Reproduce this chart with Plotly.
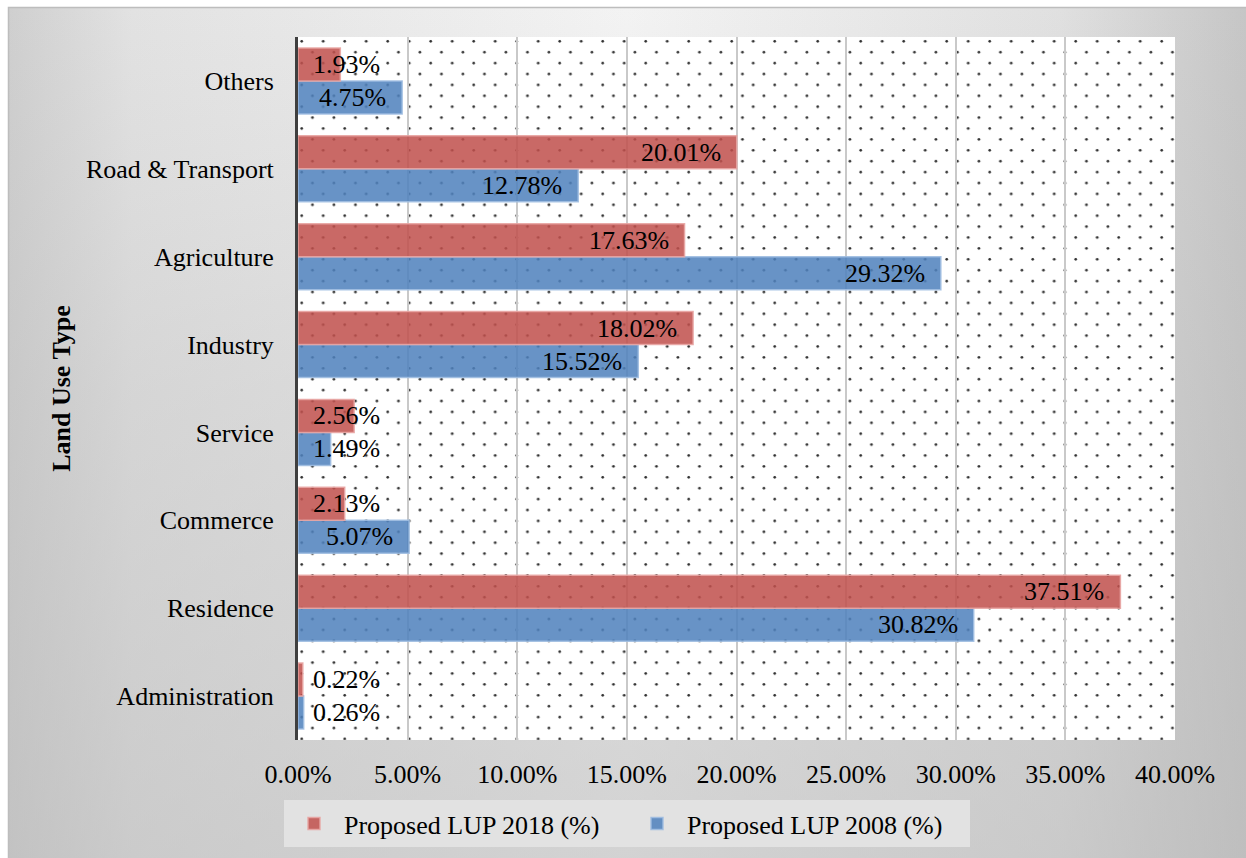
import base64
import plotly.graph_objects as go

# Land use categories, listed bottom to top
categories = ["Administration", "Residence", "Commerce", "Service",
              "Industry", "Agriculture", "Road & Transport", "Others"]

# Share of land (%) per plan
lup_2018 = [0.22, 37.51, 2.13, 2.56, 18.02, 17.63, 20.01, 1.93]
lup_2008 = [0.26, 30.82, 5.07, 1.49, 15.52, 29.32, 12.78, 4.75]

x_ticks = [0, 5, 10, 15, 20, 25, 30, 35, 40]
x_tick_labels = [f"{v:.2f}%" for v in x_ticks]

W, H = 1246, 858
ML, MR, MT, MB = 298, 71, 37, 118
PW, PH = W - ML - MR, H - MT - MB

FONT = "'Liberation Serif', 'Times New Roman', Tinos, serif"
FS = 26
BARGAP = 0.25


def data_uri(svg):
    return "data:image/svg+xml;base64," + base64.b64encode(svg.encode()).decode()


# Soft grey frame behind the whole chart
frame_svg = f"""<svg xmlns="http://www.w3.org/2000/svg" width="{W}" height="{H}" viewBox="0 0 {W} {H}">
<defs>
<linearGradient id="h" x1="0" y1="0" x2="1" y2="0">
<stop offset="0" stop-color="#cfcfcf"/>
<stop offset="0.1" stop-color="#e2e2e2"/>
<stop offset="0.5" stop-color="#f3f3f3"/>
<stop offset="0.85" stop-color="#e0e0e0"/>
<stop offset="1" stop-color="#c6c6c6"/>
</linearGradient>
<linearGradient id="v" x1="0" y1="0" x2="0" y2="1">
<stop offset="0" stop-color="#b8b8b8" stop-opacity="0"/>
<stop offset="0.45" stop-color="#b8b8b8" stop-opacity="0.3"/>
<stop offset="1" stop-color="#b8b8b8" stop-opacity="0.55"/>
</linearGradient>
</defs>
<rect x="0" y="0" width="{W}" height="{H}" fill="#ffffff"/>
<rect x="8" y="7" width="{W-8}" height="{H-7}" fill="url(#h)"/>
<rect x="8" y="7" width="{W-8}" height="{H-7}" fill="url(#v)"/>
<path d="M8.5 {H} V7.5 H{W}" fill="none" stroke="#bdbdbd" stroke-width="1.5"/>
</svg>"""

# Dotted fill of the plotting area
dots_svg = f"""<svg xmlns="http://www.w3.org/2000/svg" width="{PW}" height="{PH}" viewBox="0 0 {PW} {PH}">
<defs>
<pattern id="p" x="0" y="0" width="21.5" height="21.8" patternUnits="userSpaceOnUse">
<circle cx="3.7" cy="4.3" r="1.35" fill="#2e2e2e"/>
<circle cx="14.45" cy="15.2" r="1.35" fill="#2e2e2e"/>
</pattern>
</defs>
<rect width="{PW}" height="{PH}" fill="#ffffff"/>
<rect width="{PW}" height="{PH}" fill="url(#p)"/>
</svg>"""

fig = go.Figure()

fig.add_trace(go.Bar(
    y=categories, x=lup_2008, orientation="h",
    name="Proposed LUP 2008 (%)", legendrank=2,
    marker=dict(color="rgba(79,129,189,0.86)",
                line=dict(color="rgba(160,190,225,0.9)", width=1.5)),
    hoverinfo="skip",
))
fig.add_trace(go.Bar(
    y=categories, x=lup_2018, orientation="h",
    name="Proposed LUP 2018 (%)", legendrank=1,
    marker=dict(color="rgba(192,80,77,0.86)",
                line=dict(color="rgba(232,165,163,0.9)", width=1.5)),
    hoverinfo="skip",
))

# Value labels: inside the bar end, or from the axis when the bar is short
half = (1 - BARGAP) / 4
annotations = []
for values, offset in ((lup_2008, -half), (lup_2018, half)):
    for i, v in enumerate(values):
        long_bar = v >= 4.6
        annotations.append(dict(
            x=v if long_bar else 0, y=i + offset, xref="x", yref="y",
            text=f"{v:.2f}%", showarrow=False,
            xanchor="right" if long_bar else "left",
            xshift=-14 if long_bar else 13,
            yanchor="middle",
            font=dict(family=FONT, size=FS, color="#000000"),
        ))

fig.update_layout(
    width=W, height=H,
    margin=dict(l=ML, r=MR, t=MT, b=MB, autoexpand=False),
    paper_bgcolor="#ffffff",
    plot_bgcolor="rgba(0,0,0,0)",
    barmode="group", bargap=BARGAP, bargroupgap=0,
    font=dict(family=FONT, size=FS, color="#000000"),
    showlegend=True,
    legend=dict(
        orientation="h", x=(627 - ML) / PW, xanchor="center",
        y=-(800 - (H - MB)) / PH, yanchor="top",
        bgcolor="#e2e2e2", borderwidth=0,
        font=dict(family=FONT, size=FS, color="#000000"),
        itemwidth=50,
        entrywidth=278, entrywidthmode="pixels",
    ),
    annotations=annotations,
    images=[
        dict(source=data_uri(frame_svg), xref="paper", yref="paper",
             x=-ML / PW, y=(PH + MT) / PH, sizex=W / PW, sizey=H / PH,
             xanchor="left", yanchor="top", sizing="stretch", layer="below"),
        dict(source=data_uri(dots_svg), xref="paper", yref="paper",
             x=0, y=1, sizex=1, sizey=1,
             xanchor="left", yanchor="top", sizing="stretch", layer="below"),
    ],
)

fig.update_xaxes(
    range=[0, 40], tickvals=x_ticks, ticktext=x_tick_labels,
    showgrid=True, gridcolor="#c9c9c9", gridwidth=1.5,
    zeroline=False, showline=False, ticks="",
    ticklabelstandoff=16,
    tickfont=dict(family=FONT, size=FS, color="#000000"),
    fixedrange=True, automargin=False,
)
fig.update_yaxes(
    categoryorder="array", categoryarray=categories,
    range=[-0.5, len(categories) - 0.5],
    showline=True, linecolor="#3f3f3f", linewidth=3,
    showgrid=False, zeroline=False, ticks="",
    ticklabelstandoff=16,
    tickfont=dict(family=FONT, size=FS, color="#000000"),
    title=dict(text="<b>Land Use Type</b>", standoff=8,
               font=dict(family=FONT, size=FS, color="#000000")),
    fixedrange=True, automargin=False,
)

fig.write_html("out.html")
